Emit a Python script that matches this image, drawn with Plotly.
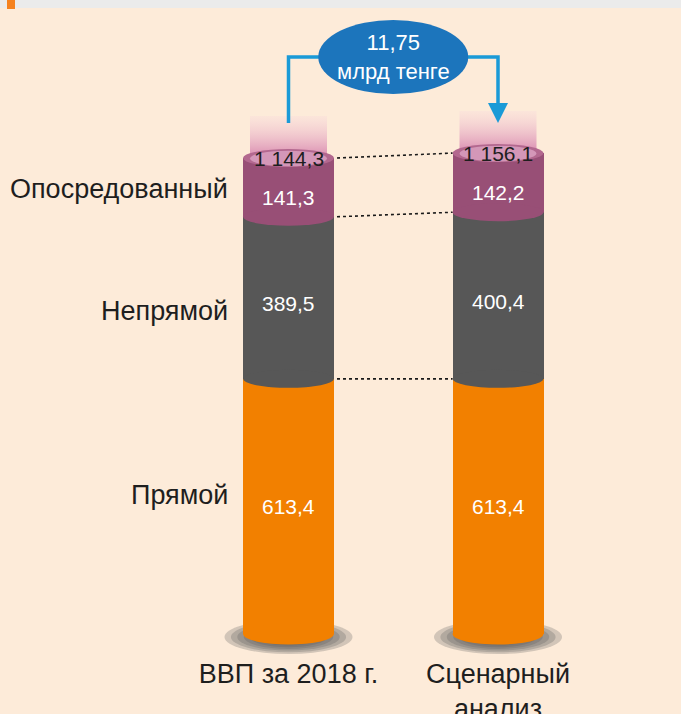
import numpy as np
import plotly.graph_objects as go

# ---------------- data ----------------
categories = ["ВВП за 2018 г.", "Сценарный<br>анализ"]
series_names = ["Прямой", "Непрямой", "Опосредованный"]
direct = [613.4, 613.4]
indirect = [389.5, 400.4]
induced = [141.3, 142.2]
totals = [1144.3, 1156.1]
delta_text = "11,75<br>млрд тенге"

# ---------------- style / layout constants ----------------
BG = "#fdebd9"
COLORS = ["#f28000", "#575757", "#984f76"]
FACE_OUTER = "#b3688f"
FACE_INNER = "#d497b8"
BLUE_LINE = "#1a9ad7"
BLUE_FILL = "#1c75bc"
FONT = "Liberation Sans, Arial, sans-serif"

W, H = 681, 714
MB = 59                      # bottom margin for category labels
PLOT_H = H - MB
X_POS = np.array([0.0, 1.0])
PX_X = 209.5                 # px per x unit
PX_Y = 0.416                 # px per y unit
X_RANGE = [-288.5 / PX_X, -288.5 / PX_X + W / PX_X]
Y_RANGE = [-21 / PX_Y, -21 / PX_Y + PLOT_H / PX_Y]
BAR_W = 91 / PX_X
RX = BAR_W / 2
RY = 9 / PX_Y
RY_BASE = 10.5 / PX_Y
GLOW_W = 77 / PX_X
GLOW_H = 42 / PX_Y
SH_RX = 64 / PX_X
SH_RY = 17 / PX_Y
SH_CY = -3 / PX_Y
LABEL_SHIFT = [0, -6, -10]       # px shift of value labels (per level)
NAME_SHIFT = [11, -13, -2]       # px shift of series names
NAME_X = -0.28


def fmt(v):
    return f"{v:,.1f}".replace(",", " ").replace(".", ",")


series = [np.array(direct), np.array(indirect), np.array(induced)]
cum = np.cumsum(np.vstack(series), axis=0)        # tops of each segment
bases = np.vstack([np.zeros(2), cum[:-1]])
tops = cum[-1]

fig = go.Figure()
shapes = []
annotations = []

# bottom shadow (soft, concentric)
for s in [1.0, 0.9, 0.8, 0.7, 0.6, 0.5]:
    for xc in X_POS:
        shapes.append(dict(type="circle", layer="below", xref="x", yref="y",
                           x0=xc - SH_RX * s, x1=xc + SH_RX * s,
                           y0=SH_CY - SH_RY * s, y1=SH_CY + SH_RY * s,
                           fillcolor="rgba(90,90,90,0.26)", line_width=0))

# bars (cylinder bodies)
for i, (name, vals) in enumerate(zip(series_names, series)):
    fig.add_trace(go.Bar(x=X_POS, y=vals, width=BAR_W, name=name,
                         marker=dict(color=COLORS[i], line_width=0),
                         hoverinfo="skip", showlegend=False))

# glow above the tops
for xc, t in zip(X_POS, tops):
    gx = [xc - GLOW_W / 2, xc + GLOW_W / 2, xc + GLOW_W / 2, xc - GLOW_W / 2, xc - GLOW_W / 2]
    gy = [t, t, t + GLOW_H, t + GLOW_H, t]
    fig.add_trace(go.Scatter(x=gx, y=gy, mode="lines", fill="toself", line_width=0,
                             fillgradient=dict(type="vertical", start=t, stop=t + GLOW_H,
                                               colorscale=[[0, "rgba(214,130,172,0.95)"],
                                                           [1, "rgba(248,215,220,0.3)"]]),
                             hoverinfo="skip", showlegend=False))

# segment bottom curves (bottom to top)
for i in range(len(series)):
    for j, xc in enumerate(X_POS):
        b = bases[i][j]
        ry = RY_BASE if i == 0 else RY
        shapes.append(dict(type="circle", xref="x", yref="y",
                           x0=xc - RX, x1=xc + RX, y0=b - ry, y1=b + ry,
                           fillcolor=COLORS[i], line_width=0))

# top faces
for xc, t in zip(X_POS, tops):
    shapes.append(dict(type="circle", xref="x", yref="y",
                       x0=xc - RX, x1=xc + RX, y0=t - RY, y1=t + RY,
                       fillcolor=FACE_OUTER, line_width=0))
    shapes.append(dict(type="circle", xref="x", yref="y",
                       x0=xc - GLOW_W / 2, x1=xc + GLOW_W / 2,
                       y0=t - RY * 0.92, y1=t + RY * 0.82,
                       fillcolor=FACE_INNER, line_width=0))

# dotted connectors between stacks
for lvl in range(len(series)):
    shapes.append(dict(type="line", xref="x", yref="y",
                       x0=X_POS[0] + RX + 3 / PX_X, y0=cum[lvl][0],
                       x1=X_POS[1] - RX, y1=cum[lvl][1],
                       line=dict(color="#1a1a1a", width=1.6, dash="dot")))

# blue connector with arrow
Y_CONN = 577 / PX_Y
Y_START = 511 / PX_Y
Y_HEAD = 530 / PX_Y
HEAD_HW = 10 / PX_X
shapes.append(dict(type="path", xref="x", yref="y",
                   path=f"M {X_POS[0]},{Y_START} L {X_POS[0]},{Y_CONN} L {X_POS[1]},{Y_CONN} L {X_POS[1]},{Y_HEAD}",
                   line=dict(color=BLUE_LINE, width=3.5)))
shapes.append(dict(type="path", xref="x", yref="y",
                   path=f"M {X_POS[1] - HEAD_HW},{Y_HEAD + 1 / PX_Y} L {X_POS[1] + HEAD_HW},{Y_HEAD + 1 / PX_Y} L {X_POS[1]},{Y_START} Z",
                   fillcolor=BLUE_LINE, line_width=0))
XM = X_POS.mean()
shapes.append(dict(type="circle", xref="x", yref="y",
                   x0=XM - 75 / PX_X, x1=XM + 75 / PX_X,
                   y0=Y_CONN - 37 / PX_Y, y1=Y_CONN + 37 / PX_Y,
                   fillcolor=BLUE_FILL, line_width=0))
annotations.append(dict(x=XM, y=Y_CONN, xref="x", yref="y", text=delta_text,
                        showarrow=False, font=dict(family=FONT, size=22, color="white")))

# header band
shapes.append(dict(type="rect", xref="paper", yref="paper", x0=0, x1=1,
                   y0=1 - 8 / PLOT_H, y1=1, fillcolor="#ebebeb", line_width=0))
shapes.append(dict(type="rect", xref="paper", yref="paper", x0=7 / W, x1=15 / W,
                   y0=1 - 9 / PLOT_H, y1=1, fillcolor="#f5821f", line_width=0))

# value labels
for i, vals in enumerate(series):
    for j, xc in enumerate(X_POS):
        annotations.append(dict(x=xc, y=(bases[i][j] + cum[i][j]) / 2, xref="x", yref="y",
                                text=fmt(vals[j]), showarrow=False, yshift=LABEL_SHIFT[i],
                                font=dict(family=FONT, size=21, color="white")))
for xc, t, tot in zip(X_POS, tops, totals):
    annotations.append(dict(x=xc, y=t, xref="x", yref="y", text=fmt(tot), showarrow=False,
                            font=dict(family=FONT, size=21, color="#1e1e1e")))

# series names
for i, name in enumerate(series_names):
    annotations.append(dict(x=X_POS[0] + NAME_X, y=(bases[i][0] + cum[i][0]) / 2,
                            xref="x", yref="y", text=name, showarrow=False,
                            xanchor="right", yshift=NAME_SHIFT[i],
                            font=dict(family=FONT, size=27, color="#1e1e1e")))

fig.update_layout(
    width=W, height=H, barmode="stack",
    margin=dict(l=0, r=0, t=0, b=MB, pad=0, autoexpand=False),
    paper_bgcolor=BG, plot_bgcolor=BG,
    shapes=shapes, annotations=annotations,
    xaxis=dict(range=X_RANGE, tickvals=X_POS, ticktext=categories,
               showgrid=False, zeroline=False, showline=False, ticks="",
               automargin=False,
               tickfont=dict(family=FONT, size=27, color="#1e1e1e"),
               fixedrange=True),
    yaxis=dict(range=Y_RANGE, visible=False, showgrid=False, zeroline=False,
               automargin=False, fixedrange=True),
    showlegend=False,
)

fig.write_html("out.html", config={"displayModeBar": False},
               post_script="document.body.style.margin='0';document.body.style.padding='0';"
                           "document.body.style.overflow='hidden';document.body.style.background='" + BG + "';")
